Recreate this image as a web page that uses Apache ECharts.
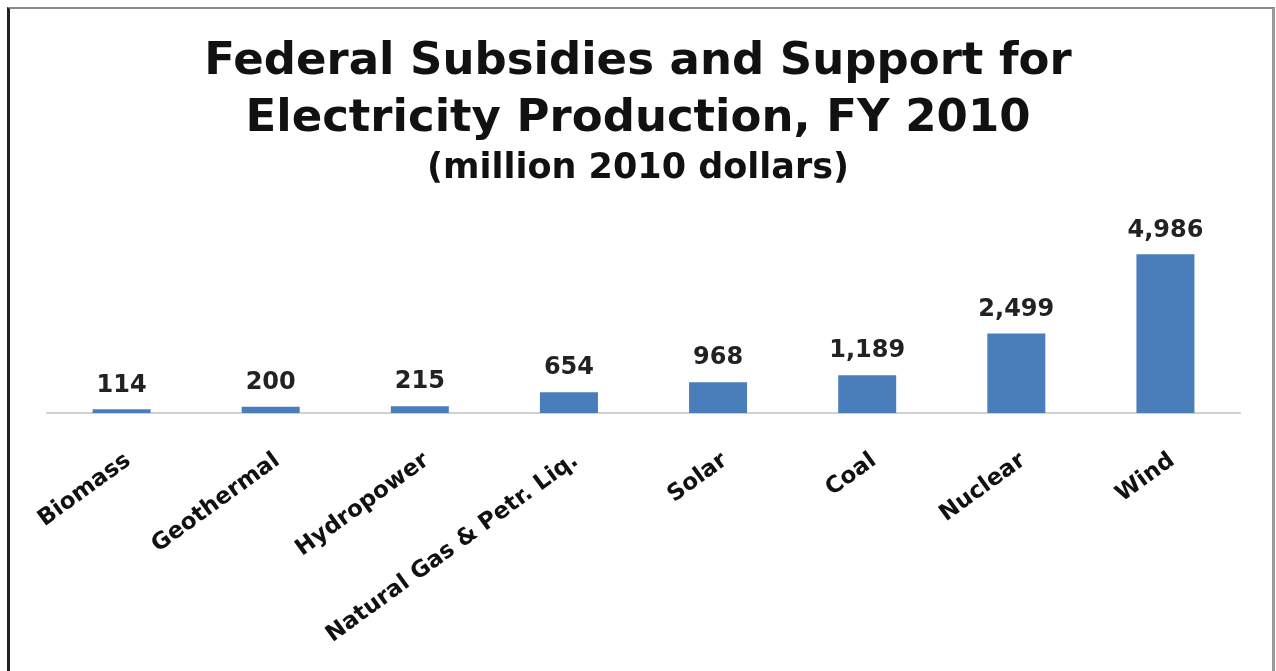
<!DOCTYPE html>
<html>
<head>
<meta charset="utf-8">
<script src="https://cdn.jsdelivr.net/npm/echarts@6/dist/echarts.min.js"></script>
<style>
  html, body { margin: 0; padding: 0; background: #fff; }
  #frame {
    position: absolute; left: 7px; top: 7px; width: 1262px; height: 700px;
    border-left: 3px solid #222; border-top: 2px solid #8a8a8a; border-right: 3px solid #9a9a9a;
  }
  #chart { position: absolute; left: 0; top: 0; width: 1276px; height: 671px; }
</style>
</head>
<body>
<div id="frame"></div>
<div id="chart"></div>
<script>
const categories = ['Biomass', 'Geothermal', 'Hydropower', 'Natural Gas & Petr. Liq.', 'Solar', 'Coal', 'Nuclear', 'Wind'];
const subsidies = [114, 200, 215, 654, 968, 1189, 2499, 4986];

const chart = echarts.init(document.getElementById('chart'));

const font = 'DejaVu Sans';

const option = {
    backgroundColor: 'transparent',
    title: [
        {
            text: 'Federal Subsidies and Support for\nElectricity Production, FY 2010',
            left: 'center',
            top: 29,
            textStyle: { fontFamily: font, fontWeight: 'bold', fontSize: 45, lineHeight: 57, color: '#111' }
        },
        {
            text: '(million 2010 dollars)',
            left: 'center',
            top: 146,
            textStyle: { fontFamily: font, fontWeight: 'bold', fontSize: 35, lineHeight: 36, color: '#111' }
        }
    ],
    grid: { left: 47, right: 36, top: 222, bottom: 258, containLabel: false },
    xAxis: {
        type: 'category',
        data: categories,
        axisLine: { lineStyle: { color: '#d0d0d0', width: 2 } },
        axisTick: { show: false },
        axisLabel: {
            interval: 0,
            rotate: 36,
            margin: 36,
            verticalAlign: 'top',
            fontFamily: font,
            fontWeight: 'bold',
            fontSize: 23,
            color: '#111'
        }
    },
    yAxis: {
        type: 'value',
        min: 0,
        max: 6000,
        show: false
    },
    series: [{
        type: 'bar',
        data: subsidies,
        barWidth: 58,
        itemStyle: { color: '#4a7ebb' },
        label: {
            show: true,
            position: 'top',
            distance: 12,
            fontFamily: font,
            fontWeight: 'bold',
            fontSize: 24,
            color: '#222',
            formatter: p => p.value.toLocaleString('en-US')
        }
    }]
};

chart.setOption(option);
</script>
</body>
</html>
